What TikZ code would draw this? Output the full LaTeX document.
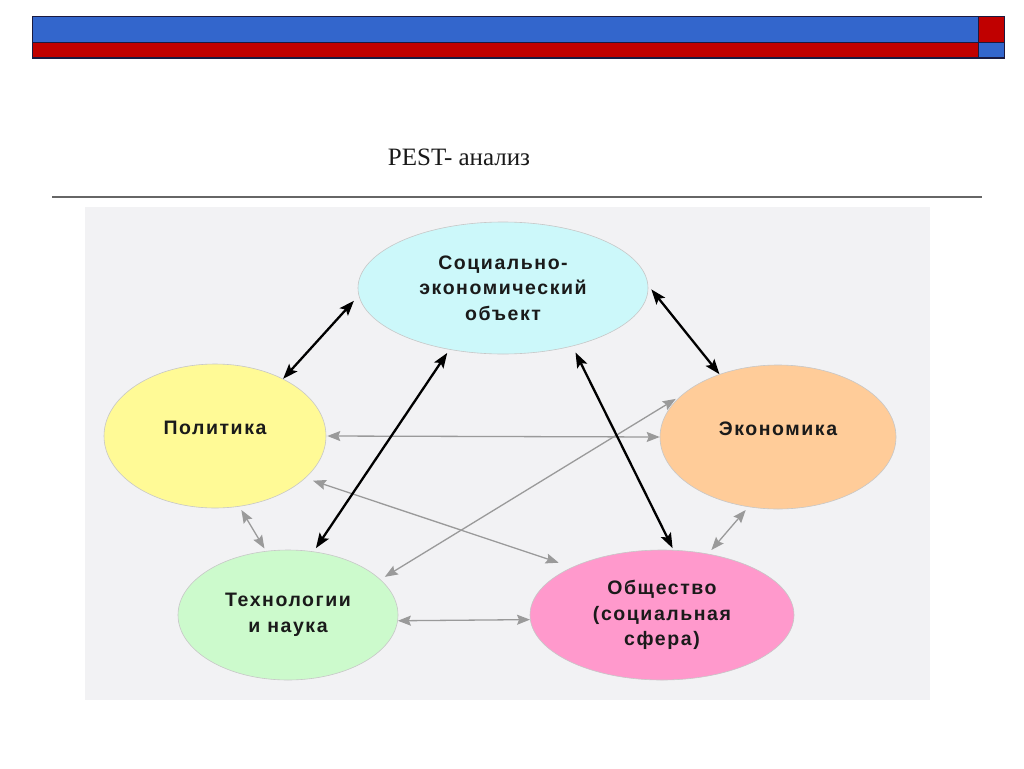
\documentclass[tikz,border=0pt]{standalone}
\usepackage{fontspec}
\setmainfont{Liberation Serif}
\newfontfamily\nodefont[LetterSpace=8]{Liberation Sans}
\usetikzlibrary{shapes.geometric,arrows.meta}
\definecolor{barblue}{HTML}{3366CC}
\definecolor{barred}{HTML}{C00000}
\definecolor{barline}{HTML}{1A1A40}
\definecolor{bgray}{HTML}{F2F2F4}
\definecolor{ccyan}{HTML}{CCF8FA}
\definecolor{cyellow}{HTML}{FFFA96}
\definecolor{corange}{HTML}{FFCC99}
\definecolor{cgreen}{HTML}{CCFACC}
\definecolor{cpink}{HTML}{FF99CC}
\definecolor{ctext}{HTML}{1A1A1A}
\definecolor{cgrayarrow}{HTML}{9A9A9A}
\tikzset{
  ell/.style={ellipse, inner sep=0pt, draw=black!22, line width=0.6pt,
    align=center, text=ctext,
    font=\nodefont\bfseries\fontsize{19.5}{25.5}\selectfont},
  blkarrow/.style={draw=black, line width=2.3pt,
    {Stealth[length=15pt,width=11pt,inset=3pt]}-{Stealth[length=15pt,width=11pt,inset=3pt]}},
  grayarrow/.style={draw=cgrayarrow, line width=1.3pt,
    {Stealth[length=13pt,width=10pt,inset=2pt]}-{Stealth[length=13pt,width=10pt,inset=2pt]}},
  barbox/.style={draw=barline, line width=1pt}
}
\begin{document}
\begin{tikzpicture}[x=1pt,y=-1pt]
\useasboundingbox (0,0) rectangle (1024,768);
\fill[white] (0,0) rectangle (1024,768);
% top bar
\filldraw[barbox, fill=barblue] (32,17) rectangle (978,43);
\filldraw[barbox, fill=barred] (32,43) rectangle (978,58);
\filldraw[barbox, fill=barred] (978,17) rectangle (1004,43);
\filldraw[barbox, fill=barblue] (978,43) rectangle (1004,58);
% title
\node[font=\fontsize{25}{30}\selectfont, text=black!90] (title) at (459,157) {PEST- анализ};
\draw[black!60, line width=1.5pt] (52,197) -- (982,197);
% diagram background
\fill[bgray] (85,207) rectangle (930,700);
% nodes
\node[ell, fill=ccyan, minimum width=290pt, minimum height=132pt] (soc) at (503,288) {Социально-\\экономический\\объект};
\node[ell, fill=cyellow, minimum width=222pt, minimum height=144pt, text depth=16pt] (pol) at (215,436) {Политика};
\node[ell, fill=corange, minimum width=236pt, minimum height=144pt, text depth=16pt] (eko) at (778,437) {Экономика};
\node[ell, fill=cgreen, minimum width=220pt, minimum height=130pt] (tek) at (288,615) {Технологии\\и наука};
\node[ell, fill=cpink, minimum width=264pt, minimum height=130pt] (obs) at (662,615) {Общество\\(социальная\\сфера)};
% gray arrows
\draw[grayarrow, shorten <=1pt] (pol.0) -- (eko.180);
\draw[grayarrow, shorten <=8pt, shorten >=14pt] (pol.-25.4) -- (obs.152.3);
\draw[grayarrow, shorten <=5pt, shorten >=6pt] (tek.21) -- (eko.157);
\draw[grayarrow, shorten <=4pt, shorten >=3pt] (pol.-71.9) -- (tek.109.9);
\draw[grayarrow, shorten <=4pt, shorten >=5pt] (eko.-113.3) -- (obs.53.6);
\draw[grayarrow] (tek.-3.1) -- (obs.182.6);
% black arrows
\draw[blkarrow, shorten >=7pt] (pol.40) -- (soc.183.6);
\draw[blkarrow, shorten <=5pt] (soc.1.2) -- (eko.133.6);
\draw[blkarrow, shorten <=4pt, shorten >=4pt] (soc.229.2) -- (tek.68.4);
\draw[blkarrow, shorten <=7pt, shorten >=2pt] (soc.-40) -- (obs.80.4);
\end{tikzpicture}
\end{document}
